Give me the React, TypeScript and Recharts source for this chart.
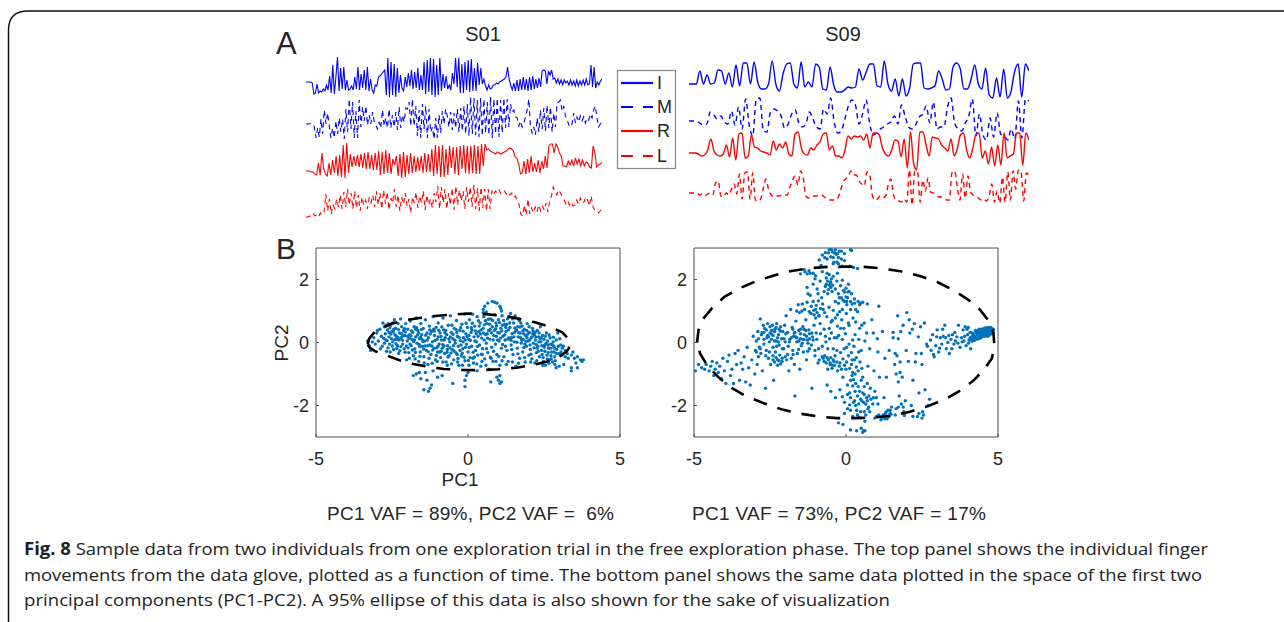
import React from 'react';
import { LineChart, Line, ScatterChart, Scatter, XAxis, YAxis } from 'recharts';

const FONT = '"Liberation Sans", Arial, sans-serif';
const TEXT = '#262626';
const DOT = '#0072BD';

const fingerNames = ['I', 'M', 'R', 'L'];
const fingerColors = ['#0000FF', '#0000FF', '#FF0000', '#FF0000'];
const fingerDashes = ['', '5 4', '', '5 4'];

// traces, read in pixels above each one's resting level
const s01Levels = [143, 101, 54, 8];
const s09Levels = [141, 104, 72, 32];

const s01I = [0,0,0,0,-1,-12,-11,-2,-11,-9,-10,-7,-9,-3,-8,6,-11,17,-12,5,25,-9,14,-7,15,-8,2,-8,-7,-4,-8,5,-7,15,-8,8,-6,12,-8,15,-9,3,-8,-11,-3,-4,5,6,8,10,12,-13,24,-15,20,-13,18,-15,14,-11,7,-6,-9,5,-5,9,-4,12,-7,10,-6,14,-8,7,-8,20,-12,22,-10,24,-13,23,-15,17,-13,24,-9,8,-6,6,-7,-3,-8,9,-2,24,-5,24,-11,18,-11,20,-8,22,-10,23,-9,14,-9,19,-3,14,-2,3,-4,-8,-3,-7,-6,-3,-3,-1,-2,0,1,2,3,5,15,3,-3,-8,-1,-9,2,-9,3,-8,5,-8,3,-9,5,-8,6,-7,3,-6,4,-5,11,12,11,-2,11,7,12,3,4,-1,3,-2,2,-3,2,-1,1,-3,2,-3,1,-4,2,-4,1,-3,2,-3,3,-3,-2,17,-5,15,-6,0,-3,1,3];
const s01M = [0,0,0,1,0,-3,-14,-4,-13,5,-10,14,0,11,-2,-14,-4,-14,3,-10,6,-8,5,-15,15,-8,25,-5,22,-14,13,-14,24,-3,17,3,18,-1,9,0,12,3,-1,-5,2,-4,14,-2,6,-4,15,-4,9,-3,12,-6,17,-4,9,2,16,15,22,-2,25,-2,18,-12,14,-14,20,-5,18,-14,15,-8,-3,-15,6,-14,9,-9,13,0,15,8,-3,12,-6,11,-4,15,-8,16,-7,18,-10,20,-12,27,-10,26,-11,24,-13,26,-12,25,-9,22,-11,27,-14,25,-10,26,-13,24,-9,26,-4,25,-3,20,12,14,7,6,-2,3,-3,1,7,14,25,-3,-9,-3,-11,6,-8,14,-5,16,-7,19,-4,17,-8,11,-3,21,22,24,13,18,8,5,-1,-3,0,11,1,7,2,8,3,7,1,6,4,10,6,14,18,6,-3,0,2];
const s01R = [0,0,0,-1,-1,-3,-4,8,-4,18,2,-3,-5,8,-4,11,-2,15,-5,16,-6,26,-7,28,-2,17,4,15,5,16,4,17,3,18,2,19,2,16,1,18,1,20,-4,19,-3,21,-2,18,-3,12,6,15,-5,17,-7,19,-6,16,-3,18,-2,15,-1,14,0,15,-2,18,-1,17,-1,22,-5,26,-3,25,-6,26,-6,22,-4,25,3,24,-3,24,-4,25,2,26,-2,25,-3,25,-2,26,-3,25,-3,27,5,27,21,22,20,19,18,17,19,18,17,18,19,20,22,23,22,20,14,13,7,-3,-2,10,-3,12,-2,15,-1,8,-1,11,-2,10,2,15,3,25,27,27,18,27,24,18,15,5,5,4,10,6,11,5,13,7,12,5,11,5,9,8,4,3,25,18,4,6,7,9];
const s01L = [0,0,1,0,3,1,2,0,4,2,5,23,6,18,3,12,8,18,10,22,8,25,10,28,12,24,8,26,9,22,6,20,12,17,8,19,14,22,10,26,12,24,8,27,13,25,7,19,14,28,10,22,6,20,13,24,11,18,4,20,14,25,9,21,14,26,7,22,12,18,9,24,15,31,8,30,14,28,8,24,12,29,7,31,12,27,16,26,8,30,15,30,10,32,8,29,6,30,9,28,6,28,8,26,22,26,24,27,23,25,26,23,25,22,24,20,21,16,13,3,1,12,2,18,3,9,4,10,5,12,6,11,7,14,5,16,21,30,25,22,27,24,20,17,13,16,12,15,11,12,17,13,19,14,15,20,17,11,21,10,7,5,4,6,8];

const s09I = [0,0,0,13,0,9,0,1,14,13,0,11,-3,19,-2,21,21,0,22,2,-5,-5,0,23,0,-7,10,20,21,0,-4,22,-3,2,-3,20,17,-5,-6,17,-1,-8,-8,-6,-3,-4,-3,15,4,12,20,20,-2,-3,23,0,-7,5,-12,5,-12,-4,20,21,21,-4,-5,-4,-2,13,5,-6,-5,17,21,15,-5,-5,5,19,0,-5,16,-11,-14,6,-13,15,-14,-8,12,20,-13,20,13];
const s09M = [0,0,0,-2,-4,-3,9,6,2,5,-1,-3,10,-4,14,-8,22,-4,-15,22,23,-10,-11,9,12,10,5,-7,-3,7,11,-2,-6,-3,9,2,-6,-8,12,7,23,-1,-12,-10,2,15,21,16,-3,7,21,-2,-14,-12,-8,-6,-3,-1,5,-3,16,5,-6,-8,-4,4,7,15,-2,19,-8,-6,-6,14,23,-2,-8,-10,-2,5,22,-15,7,-14,-19,3,-16,8,-13,-15,-19,-8,-18,20,-17,22,20];
const s09R = [0,0,0,-1,-3,-2,3,14,2,-2,-3,-1,8,-4,15,-7,19,20,-5,-3,18,6,5,2,1,0,-2,12,3,9,5,11,-1,-3,19,21,5,-1,-2,5,3,8,11,19,20,3,7,-3,-3,-5,3,17,14,17,16,17,13,19,5,20,20,18,5,-1,-3,3,13,12,-4,14,-15,21,-10,-17,21,21,8,-3,16,15,14,8,5,2,14,-3,4,18,20,3,-5,5,19,20,-5,2,-11,6,-13,8,-12,20,-5,-3,-1,20,20,-12,20,13];
const s09L = [0,0,0,0,-2,-1,-3,-1,0,-2,10,12,-3,-4,0,-2,4,9,-1,19,-6,20,21,-6,20,-7,-8,-6,5,14,3,-2,-4,-3,-3,-2,-2,-2,6,13,17,8,22,15,-3,-5,-3,-3,-3,-2,-2,-4,-6,-7,-7,-7,-5,2,11,14,17,22,18,18,12,9,7,21,19,-2,-7,-6,-3,-5,-3,8,14,-2,-7,-8,-9,-6,-9,23,-12,22,22,-9,13,2,15,1,0,-2,-4,-4,-6,-7,-7,20,22,6,-7,19,-5,17,1,-2,-3,-5,-7,-6,-8,-3,9,-9,2,-10,16,-9,21,-7,22,4,23,21,-8,20,18];

const s01Traces = [s01I, s01M, s01R, s01L];
const s09Traces = [s09I, s09M, s09R, s09L];

const pcLimits = [-5, 5];
const pcSideLimits = [-3, 3];
const pcTicks = [-5, 0, 5];
const pcSideTicks = [-2, 0, 2];

const s01Points = [
[.5,1.05],[.55,1.15],[.65,1.25],[.8,1.3],[.95,1.25],[1.05,1.15],[1.1,1],[.5,.95],[.6,.97],[.88,1.28],[1.08,1.08],
[-1.3,-1.55],[-1.45,-1.5],[-1.25,-1.45],[-1.2,-1.35],[-1.35,-1.2],[-1.7,-1],[-1.8,-1.05],[-1.6,-.95],[-1.55,-1.15],[-.5,-1.3],[-.1,-1.4],[-.1,-1.2],[-.05,-1.05],[0,-.95],[.3,-.9],[.75,-1.25],[1,-1.2],[1.05,-1.3],[1.1,-1.25],[.95,-1.1],[1.05,-1.05],[-1,-1.1],[-.85,-1.05],[-1.15,-.9],[-1.4,-.95],
[3.1,-.4],[3.3,-.5],[3.4,-.4],[3.55,-.65],[3.7,-.55],[3.8,-.55],[3.75,-.6],[3.6,-.45],[3.4,-.8],[3.4,-.9],[3.6,-.8],[3.15,-.7],[3,-.75],[2.9,-.8],[3.2,-.25],[3.45,-.3],[3.5,-.5],
[-3.3,.05],[-3.25,-.1],[-3.2,-.25],[-3.1,.15],[-3,.3],[-3.05,-.05],[-2.95,.05],[-2.9,.42],[-2.85,.2],[-2.82,-.12],[-2.8,.62],[-2.75,.5],[-2.72,.28],[-2.7,.08],[-2.68,-.28],[-2.65,.4],[-2.6,.18],[-2.58,-.05],[-2.55,.55],[-2.5,.35],[-2.48,.02],[-2.45,-.22],[-2.42,.72],[-2.4,.25],[-2.38,.45],[-2.35,.1],[-2.32,-.1],[-2.3,.6],[-2.28,-.35],[-2.25,.3],[-2.22,.75],[-2.2,.15],[-2.18,.5],[-2.15,-.05],[-2.12,.38],[-2.1,-.2],[-2.08,.22],[-2.05,.6],[-2.02,-.55],[-2,.05],
[-1.98,.42],[-1.95,-.32],[-1.92,.25],[-1.9,.68],[-1.87,-.1],[-1.85,.1],[-1.82,.32],[-1.8,-.42],[-1.77,.5],[-1.75,-.2],[-1.72,.18],[-1.7,.78],[-1.68,-.02],[-1.65,.38],[-1.62,-.6],[-1.6,.12],[-1.57,-.3],[-1.55,.6],[-1.52,.25],[-1.5,-.12],[-1.47,.45],[-1.45,-.45],[-1.42,.05],[-1.4,.72],[-1.37,-.25],[-1.35,.3],[-1.32,-.7],[-1.3,.15],[-1.27,.52],[-1.25,-.08],[-1.22,-.38],[-1.2,.35],[-1.17,.02],[-1.15,.82],[-1.12,-.18],[-1.1,.22],[-1.07,-.55],[-1.05,.48],[-1.02,.1],[-1,-.3],
[-.98,.62],[-.95,-.05],[-.92,.3],[-.9,-.48],[-.87,.08],[-.85,-.18],[-.82,.78],[-.8,.4],[-.77,-.35],[-.75,.15],[-.72,-.62],[-.7,.25],[-.67,-.1],[-.65,.55],[-.62,-.42],[-.6,.02],[-.58,.85],[-.55,.32],[-.52,-.22],[-.5,.12],[-.47,-.55],[-.45,.45],[-.42,-.02],[-.4,-.32],[-.38,.7],[-.35,.2],[-.32,-.12],[-.3,-.72],[-.27,.38],[-.25,.06],[-.22,-.42],[-.2,.58],[-.17,-.2],[-.15,.15],[-.12,.9],[-.1,-.58],[-.07,.28],[-.05,-.05],[-.02,.48],[0,-.3],
[.02,.1],[.05,.72],[.07,-.48],[.1,.32],[.12,-.12],[.15,.9],[.18,-.65],[.2,.18],[.22,.52],[.25,-.25],[.28,.02],[.3,.82],[.32,-.4],[.35,.35],[.38,-.08],[.4,.62],[.42,-.75],[.45,.14],[.48,-.2],[.5,.45],[.52,.82],[.55,-.52],[.58,.25],[.6,-.02],[.62,.6],[.65,-.32],[.68,.38],[.7,-.85],[.72,.1],[.75,.75],[.78,-.15],[.8,.5],[.82,-.6],[.85,.22],[.88,.88],[.9,-.05],[.92,.62],[.95,-.38],[.98,.32],[1,.72],
[1.02,.05],[1.05,-.72],[1.08,.45],[1.1,-.18],[1.12,.85],[1.15,.2],[1.18,-.45],[1.2,.58],[1.22,.08],[1.25,.35],[1.28,-.25],[1.3,.75],[1.32,-.6],[1.35,.15],[1.38,.48],[1.4,.92],[1.42,-.08],[1.45,.28],[1.48,-.38],[1.5,.62],[1.52,.02],[1.55,.85],[1.58,-.75],[1.6,.4],[1.62,-.18],[1.65,.18],[1.68,.7],[1.7,-.5],[1.72,.3],[1.75,-.02],[1.78,.52],[1.8,-.3],[1.82,.1],[1.85,.42],[1.88,-.62],[1.9,.22],[1.92,-.12],[1.95,.6],[1.98,.05],[2,-.4],
[2.02,.32],[2.05,-.22],[2.08,.15],[2.1,-.52],[2.12,.45],[2.15,-.02],[2.18,.25],[2.2,-.65],[2.22,.08],[2.25,-.32],[2.28,.38],[2.3,-.12],[2.32,.18],[2.35,-.45],[2.38,.5],[2.4,.02],[2.42,-.25],[2.45,.22],[2.48,-.6],[2.5,.1],[2.52,-.08],[2.55,-.72],[2.58,.3],[2.6,-.4],[2.62,.05],[2.65,-.18],[2.68,-.55],[2.7,.15],[2.72,-.05],[2.75,-.3],[2.78,-.62],[2.8,.02],[2.82,-.12],[2.85,-.45],[2.9,.08],[2.92,-.22],[2.95,.3],[3,-.35],[3.02,.12],[3.05,-.08],[3.1,-.18],
[-2.6,.32],[-2.52,.12],[-2.44,.42],[-2.36,.2],[-2.27,.08],[-2.18,.28],[-2.09,.44],[-1.99,.2],[-1.91,-.05],[-1.72,.42],[-1.62,.3],[-1.51,.1],[-1.33,-.1],[-1.13,.42],[-.98,.18],[-.88,-.28],[-.78,.08],[-.68,-.22],[-.58,.18],[-.48,-.1],[-.37,.32],[-.26,-.25],[-.16,.02],[-.08,-.15],[.03,.22],[.13,.4],[.23,.05],[.33,.2],[.43,.4],[.53,.08],[.63,.28],[.73,.42],[.83,.08],[.93,.2],[1.03,.3],[1.13,.55],[1.23,-.12],[1.33,.4],[1.43,.15],[1.53,.32],[1.63,.5],[1.73,.15],[1.83,.28],[1.93,.38],[2.03,.08],[2.13,.28],[2.23,.18],[2.33,.02],[2.43,-.1],[2.53,-.28],[2.63,-.08],[2.73,-.42],[2.83,-.3],
[-2.77,.13],[-2.63,-.17],[-2.54,.27],[-2.66,.06],[-2.49,-.11],[-2.41,.09],[-2.57,.47],[-2.34,-.19],[-2.46,.33],[-2.29,.41],[-2.37,-.04],[-2.21,-.13],[-2.31,.16],[-2.16,.07],[-2.24,-.26],[-2.06,.33],[-2.14,.21],[-2.03,-.11],[-1.94,.13],[-2.07,-.31],[-1.86,.37],[-1.97,-.17],[-1.79,.03],[-1.88,.21],[-1.73,-.31],[-1.83,-.24],[-1.66,.24],[-1.76,.08],[-1.59,-.13],[-1.69,.47],[-1.53,.41],[-1.61,-.06],[-1.46,-.21],[-1.56,.17],[-1.39,.23],[-1.48,.03],[-1.31,-.29],[-1.41,-.11],[-1.24,.27],[-1.34,.08],[-1.16,-.24],[-1.26,.4],[-1.09,.06],[-1.19,-.11],[-1.03,-.17],[-1.11,.36],[-.96,.39],[-1.04,-.41],[-.89,.19],[-.99,-.12],[-.83,-.07],[-.93,-.3],[-.76,.31],[-.86,.49],[-.69,-.31],[-.79,-.11],[-.63,.11],[-.73,.38],[-.56,-.33],[-.66,-.46],[-.49,.26],[-.59,-.17],[-.43,.07],[-.53,.55],[-.36,-.38],[-.46,-.27],[-.29,.16],[-.39,.41],[-.23,-.08],[-.33,-.51],[-.16,.36],[-.24,.47],[-.09,.08],[-.19,-.34],[-.03,.19],[-.13,-.47],[.04,-.16],[-.06,.61],[.11,.47],[.01,-.57],[.17,-.31],[.08,.07],[.24,.37],[.14,.61],[.31,-.13],[.21,-.46],[.37,.52],[.27,.28],[.44,-.37],[.34,.69],[.51,.3],[.41,.27],[.57,.69],[.47,-.38],[.64,.14],[.54,.56],[.71,.58],[.61,-.2],[.77,.31],[.67,.74],[.84,-.28],[.74,-.47],[.91,.44],[.81,.7],[.97,.08],[.87,.39],[1.04,.63],[.94,.53],[1.11,.37],[1.01,-.44],[1.17,.7],[1.07,.14],[1.24,.48],[1.14,-.06],[1.31,.11],[1.21,.25],[1.37,.62],[1.27,.57],[1.44,-.22],[1.34,.82],[1.51,.18],[1.41,.07],[1.57,.37],[1.47,.75],[1.64,-.36],[1.54,.46],[1.71,.49],[1.61,.01],[1.77,.07],[1.67,.31],[1.84,-.16],[1.74,.62],[1.91,.04],[1.81,.37],[1.97,.27],[1.87,-.05],[2.04,-.08],[1.94,.16],[2.11,.18],[2.01,.5],[2.17,-.17],[2.07,-.37],[2.24,-.06],[2.14,.37],[2.31,-.28],[2.21,.32],[2.37,.12],[2.27,-.18],[2.44,-.38],[2.34,.3],[2.51,-.15],[2.41,.15],[2.57,-.02],[2.47,-.48],[2.64,-.32],[2.54,.2],[2.71,-.18],[2.61,-.52],[2.77,-.07],[2.67,.24],[2.84,-.18],[2.74,-.52],[2.91,-.35],[2.81,.17],[2.97,-.12],[2.87,-.58],[3.06,-.3],[3.14,-.12],[3.2,-.45],[3.26,-.35],
[-3.15,.02],[-2.98,.38],[-2.88,-.2],[-2.7,.55],[-2.75,-.02],[-2.62,.6],[-2.56,-.3],[-2.47,.62],[-1.93,-.5],[-1.74,-.52],[-1.58,-.44],[-1.44,-.65],[-1.28,-.5],[-1.18,-.66],[-1.01,-.6],[-.83,-.62],[-.68,-.72],[-.54,-.68],[-.34,-.62],[-.18,-.72],[.03,-.72],[.16,-.5],[.29,-.68],[.46,-.6],[.59,-.72],[.76,-.5],[.92,-.6],[1.12,-.58],[1.26,-.7],[1.46,-.62],[1.66,-.66],[1.86,-.48],[2.06,-.62],[2.26,-.58],[2.46,-.72],[2.66,-.66],[2.86,-.7],
];

const s09Points = [
[-4.95,-.9],[-4.85,-.7],[-4.75,-.8],[-4.65,-.85],[-4.6,-.7],[-4.5,-.9],[-4.45,-.75],[-4.4,-.6],[-4.35,-1.05],[-4.3,-.85],[-4.25,-.65],[-4.2,-.95],[-4.15,-.75],[-4.1,-1.15],[-4.05,-.5],[-4,-.9],[-3.95,-1.3],[-3.9,-.6],[-3.85,-.4],[-3.8,-1.05],[-3.75,-.85],[-3.7,-1.3],[-3.65,-.35],[-3.6,-.7],[-3.55,-.25],[-3.5,-1.2],[-3.45,-.65],[-3.4,-.85],[-3.35,-.45],[-3.3,-1.25],[-3.25,-.15],[-3.2,-.8],[-3.15,-1.35],[-3.1,-.55],[-3.05,.2],[-3,-1],[-2.98,-.25],[-2.95,.05],[-2.92,-.7],[-2.9,.35],[-2.88,-.45],[-2.85,-.15],[-2.82,.75],[-2.8,-.35],[-2.78,.25],[-2.75,-.9],[-2.72,.55],[-2.7,-.05],[-2.68,.45],[-2.65,-1.45],[-2.62,-.25],[-2.6,.15],[-2.58,.6],[-2.55,-.5],[-2.52,.02],[-2.5,.3],[-2.48,-.7],[-2.45,.1],[-2.42,.55],[-2.4,-.15],[-2.38,-1.2],[-2.35,.35],[-2.32,-.3],[-2.3,.05],[-2.28,.6],[-2.25,-.55],[-2.22,.25],[-2.2,-.08],[-2.18,-.4],[-2.15,.5],[-2.12,.12],[-2.1,-.6],[-2.08,.35],[-2.05,-.2],[-2.02,.55],[-2,-.45],
[-2,.02],[-1.97,.85],[-1.95,-.55],[-1.92,.32],[-1.9,-.12],[-1.88,-.9],[-1.85,.1],[-1.82,1.05],[-1.8,-.5],[-1.77,.48],[-1.75,-.25],[-1.72,.2],[-1.7,-.7],[-1.68,-1.7],[-1.65,.68],[-1.62,.02],[-1.6,-.35],[-1.57,1.2],[-1.55,.38],[-1.52,-.85],[-1.5,.12],[-1.47,-.1],[-1.45,1],[-1.42,.5],[-1.4,-.3],[-1.37,.25],[-1.35,2.25],[-1.32,.72],[-1.3,-.55],[-1.27,.08],[-1.25,1.55],[-1.22,.4],[-1.2,-.2],[-1.18,2.2],[-1.15,.92],[-1.12,-1.45],[-1.1,.18],[-1.08,1.3],[-1.05,.55],[-1.02,-.42],[-1,1.05],
[-.98,.3],[-.95,1.7],[-.92,-.65],[-.9,.85],[-.88,-.55],[-.85,.6],[-.82,2.45],[-.8,1.42],[-.78,-.45],[-.75,1.05],[-.72,-.6],[-.7,2.7],[-.68,.2],[-.65,1.85],[-.62,-.48],[-.6,1.55],[-.58,2.85],[-.55,.45],[-.52,-.7],[-.5,1.75],[-.48,2.95],[-.45,.7],[-.42,-.55],[-.4,2.55],[-.38,.15],[-.35,1.3],[-.32,2.8],[-.3,-.25],[-.28,.88],[-.25,1.55],[-.22,2.4],[-.2,-.65],[-.18,.45],[-.15,2.9],[-.12,1.05],[-.1,-1.1],[-.08,1.65],[-.05,2.6],[-.02,.28],[0,-.85],[.02,1.3],[.05,-1.35],[.08,1.85],[.1,.55],[.12,-1.6],[.15,2.95],[.18,1.55],[.2,-.55],[.22,.08],[.25,-1.9],[.28,1.25],[.3,-1],[.32,.65],[.35,-2.15],[.38,2.35],[.4,-1.4],[.42,-.3],[.45,1.2],[.48,-1.8],[.5,-2.4],[.52,.55],[.55,-1.1],[.58,-2.8],[.6,-1.65],[.62,.05],[.65,-2.3],[.68,.3],[.7,-1.85],[.72,-.75],[.75,-2.05],[.78,-.2],[.8,-1.45],[.85,.72],[.88,-1.95],[.9,.3],[.92,-.9],[.95,-2.4],[1,-1.75],[1.03,.12],[1.05,-.3],[1.08,1.15],[1.1,-1.1],[1.15,-2.45],[1.2,.35],[1.25,-1.75],[1.28,-.5],[1.3,-2.25],[1.33,-1.1],[1.38,-2.35],[1.42,-.25],[1.45,-2.15],[1.5,-2.05],[1.55,.15],[1.6,-.7],[1.65,-1],
[1.65,-2.1],[1.7,.85],[1.75,-1.7],[1.8,.35],[1.85,-1.1],[1.9,-2.2],[1.95,-1.85],[2,.95],[2.05,-.6],[2.1,.3],[2.15,-2],[2.2,-1.2],[2.25,.6],[2.3,-.35],[2.35,-2.35],[2.4,-1.6],[2.45,.5],[2.5,-.7],[2.55,-2.3],[2.6,-1.5],[2.65,-.05],[2.7,-2],[2.75,-1.8],[2.8,-.25],[2.85,.25],[2.9,-.45],[2.95,-.1],[3,.4],[3.05,-.3],[3.1,.15],[3.15,-.05],[3.2,.2],[3.25,.55],[3.3,-.2],[3.35,0],[3.4,-.35],[3.45,.1],[3.5,.25],[3.55,-.05],[3.6,.05],[3.65,.18],[3.7,.55],[3.75,-.15],[3.8,.15],[3.85,.4],[3.88,.05],[3.92,.5],[3.95,-.1],[4,.25],[4.02,.48],[4.05,.08],[4.08,.15],[4.1,-.2],
[4.12,.12],[4.15,.2],[4.18,.1],[4.2,.25],[4.22,.17],[4.25,.15],[4.27,.3],[4.29,.2],[4.31,.12],[4.33,.26],[4.35,.22],[4.37,.35],[4.39,.18],[4.41,.28],[4.43,.2],[4.45,.32],[4.47,.42],[4.49,.26],[4.51,.22],[4.53,.35],[4.55,.28],[4.57,.43],[4.59,.3],[4.61,.24],[4.63,.38],[4.65,.32],[4.67,.28],[4.69,.44],[4.71,.36],[4.73,.3],[4.75,.4],[4.77,.34],[4.79,.44],[4.81,.38],[4.83,.4],[4.85,.42],[4.6,.36],[4.5,.3],[4.4,.25],[4.3,.17],[4.7,.33],[4.54,.24],[4.64,.26],[4.74,.36],[4.44,.26],[4.34,.18],
[-2.7,.32],[-2.62,.4],[-2.55,.18],[-2.5,.5],[-2.45,.38],[-2.4,.22],[-2.35,.05],[-2.3,.48],[-2.25,.15],[-2.2,.42],[-2.4,-.55],[-2.35,-.62],[-2.3,-.48],[-2.25,-.72],[-2.2,-.58],[-2.15,-.68],[-2.1,-.5],[-1.75,.42],[-1.7,.3],[-1.65,.18],[-1.55,.05],[-1.5,.28],[-1.42,.1],[-1.38,.42],[-1.3,.2],[-1.25,-.02],[-1.2,.12],[-1.12,.3],[-1.05,.88],[-1,.78],[-.95,.95],[-.88,.85],[-.65,2.05],[-.6,1.95],[-.55,1.82],[-.52,1.9],[-.48,2.02],[-.42,2.7],[-.38,2.85],[-.3,2.55],[-.25,2.7],[-.75,-.5],[-.7,-.42],[-.65,-.65],[-.58,-.55],[-.5,-.48],[-.45,-.72],[-.4,-.6],[-.05,1.3],[0,1.45],[.03,1.2],[.06,1.6],[-.15,1.42],[-.25,1.25],[.15,-1.2],[.2,-1.05],[.3,-1.55],[.42,-1.95],[.52,-1.85],[.6,-2.2],[.68,-1.75],[.72,-2.1],[.78,-2.2],[.58,-1.9],[.48,-2.2],[.38,-2.3],[1.38,-2.15],[1.45,-2.25],[1.42,-2.35],[1.35,-2.42],[2.4,-2.25],[2.5,-2.4],[2.52,-2.2],[2.2,-2.35],
[-1.62,1],[-1.53,.95],[-1.44,1.22],[-1.36,1.05],[-1.28,1.28],[-1.21,.98],[-1.14,1.15],[-1.06,1.02],[-.98,1.18],[-.91,1.32],[-.84,1.08],[-.77,1.22],[-.7,.95],[-.63,.82],[-.56,1.12],[-.49,.65],[-.42,1.02],[-.35,.78],[-.28,.52],[-.21,.98],[-.14,.72],[-.07,.45],[.01,.92],[.08,.62],[.15,1.05],[.23,.78],[.3,.25],[.38,.98],[.45,.45],[.6,.62],[.7,1.22],
[-1.28,1.75],[-1.18,1.5],[-1.08,1.85],[-1.02,2.02],[-.92,1.55],[-.85,1.95],[-.78,2.25],[-.72,1.62],[-.68,1.78],[-.62,2.2],[-.58,1.68],[-.55,2.15],[-.5,1.92],[-.46,1.62],[-.44,1.82],[-.42,2.1],[-.35,1.7],[-.3,1.95],[-.28,2.2],[-.22,1.42],[-.18,1.8],[-.12,1.98],[-.1,1.35],[-.05,1.6],[0,1.72],[.05,1.42],[.1,1.62],[.15,1.3],[.2,1.22],[.28,1.38],[.32,1.05],[.4,1.3],[.48,1.25],[.55,1.28],
[-.88,2.62],[-.78,2.78],[-.68,2.85],[-.62,2.65],[-.55,2.95],[-.5,2.72],[-.45,2.88],[-.42,2.5],[-.35,2.95],[-.28,2.82],[-.25,2.5],[-.22,2.9],[-.15,2.65],[-.12,2.42],[-.05,2.82],[.12,2.42],[.25,2.38],[.18,2.92],[-1.5,2.18],[-1.38,2.32],[-1.28,2.18],[-1.22,2.28],[-1.08,2.2],[-1,2.12],
[-2.95,-.3],[-2.88,.12],[-2.82,-.2],[-2.76,.32],[-2.7,.1],[-2.64,-.42],[-2.58,.22],[-2.52,-.3],[-2.46,.28],[-2.4,-.42],[-2.34,.42],[-2.28,-.12],[-2.22,.02],[-2.16,.36],[-2.1,-.2],[-2.04,.12],[-1.98,.28],[-1.92,-.38],[-1.86,.02],[-1.8,.15],[-1.74,-.38],[-1.68,.32],[-1.62,.15],[-1.56,-.22],[-1.5,.42],[-1.44,-.02],[-1.38,.1],[-1.32,.38],[-1.26,-.28],[-1.2,.28],[-1.14,-.08],[-1.08,.08],[-1.02,-.25],[-.96,.1],[-.9,-.2],[-.84,.28],[-.78,-.12],[-.72,.42],[-.66,.02],[-.6,-.2],[-.54,.12],[-.48,.3],[-.42,-.2],[-.36,-.42],[-.3,.15],[-.24,.22],[-.18,-.32],[-.12,.1],[-.06,-.2],[.02,-.15],[.1,-.05],[.18,-.32],[.26,-.12],[.34,-.48],[.42,.1],[.5,-.25],
[-.6,-.85],[-.52,-.65],[-.46,-.82],[-.38,-.72],[-.3,-.62],[-.28,-.9],[-.22,-.75],[-.15,-.85],[-.1,-.52],[-.05,-.72],[.02,-.62],[.08,-.42],[.12,-.82],[.18,-.7],[.22,-.95],[.28,-.55],[.34,-.78],[.4,-.9],[.46,-.62],[.52,-.82],
[-.2,-1.5],[-.35,-1.75],[-.5,-1.55],[-.62,-1.35],[-.12,-1.72],[-.05,-1.9],[.05,-1.65],[.12,-1.98],[.15,-1.75],[.22,-1.38],[.28,-1.85],[.25,-1.18],[.32,-1.3],[.38,-1.7],[.45,-1.55],[.5,-1.2],[.55,-1.6],[.6,-1.4],[.65,-1.95],[.7,-1.3],[.75,-1.7],[.82,-1.8],[.9,-1.75],[.95,-1.55],[1.05,-1.95],[.15,-2.15],[.05,-2.1],[-.05,-2.25],[.22,-2.35],[.32,-2],[.42,-2.38],[.62,-2.5],[.5,-2.72],[.55,-2.85],[.62,-2.8],[.35,-2.8],[.15,-2.78],[-.1,-2.6],[-.25,-2.55],[1,-2.35],[1.08,-2.3],[1.18,-2.4],[1.22,-2.3],[1.28,-2.42],[1.32,-2.2],[1.48,-2.28],[1.62,-2.3],[1.72,-2.05],[1.82,-1.95],[1.88,-2.05],[1.92,-2.32],
[3.82,.02],[3.9,.2],[3.98,.42],[4.03,-.02],[4.08,.32],[4.14,.04],[4.16,.3],[4.22,.06],[4.26,.38],[4.28,.1],[4.32,.36],[4.36,.12],[4.38,.42],[4.42,.14],[4.46,.4],[4.48,.18],[4.52,.44],[4.56,.2],[4.58,.46],[4.62,.46],[4.66,.2],[4.68,.48],[4.72,.24],[4.76,.48],[4.8,.28],[4.84,.32],[4.46,.22],[4.58,.22],[4.68,.38],[4.78,.4],
[1.55,.32],[1.62,-.35],[1.72,.12],[1.78,-.62],[1.88,.55],[1.98,-.25],[2.08,.72],[2.18,.42],[2.28,-.62],[2.38,.18],[2.48,-.35],[2.58,.62],[2.68,-.12],[2.78,.08],[2.88,-.38],[2.98,.18],[3.08,-.18],[3.18,.42],[3.28,.15],[3.38,.22],[3.48,-.2],[3.58,.32],[3.68,-.02],[1.72,-1.25],[1.78,-.95],[1.68,-.42],
];

const s01Ellipse = [[-3.3,-.05],[-3.25,.12],[-3.1,.3],[-2.85,.45],[-2.5,.6],[-2.1,.7],[-1.6,.78],[-1.1,.84],[-.6,.88],[0,.92],[.6,.9],[1.2,.84],[1.7,.75],[2.2,.64],[2.7,.5],[3.1,.32],[3.3,.12],[3.38,-.08],[3.25,-.28],[3,-.45],[2.6,-.6],[2.1,-.72],[1.6,-.8],[1,-.85],[.4,-.88],[-.2,-.87],[-.8,-.84],[-1.3,-.77],[-1.8,-.68],[-2.3,-.55],[-2.7,-.4],[-3.05,-.28],[-3.25,-.15],[-3.3,-.05]];
const s09Ellipse = [[-4.9,0],[-4.85,.4],[-4.7,.75],[-4.4,1.1],[-4,1.45],[-3.5,1.72],[-3,1.93],[-2.4,2.12],[-1.8,2.27],[-1.2,2.36],[-.6,2.4],[0,2.41],[.6,2.4],[1.2,2.35],[1.8,2.26],[2.4,2.12],[3,1.92],[3.5,1.68],[4,1.37],[4.4,1.05],[4.7,.68],[4.85,.3],[4.88,-.1],[4.8,-.5],[4.55,-.85],[4.2,-1.2],[3.8,-1.5],[3.3,-1.78],[2.7,-2.02],[2.1,-2.2],[1.5,-2.32],[.9,-2.38],[.3,-2.4],[-.3,-2.4],[-.9,-2.35],[-1.5,-2.26],[-2.1,-2.13],[-2.7,-1.93],[-3.3,-1.7],[-3.8,-1.42],[-4.2,-1.1],[-4.55,-.75],[-4.8,-.35],[-4.9,0]];

const captionLines = [
  'Sample data from two individuals from one exploration trial in the free exploration phase. The top panel shows the individual finger',
  'movements from the data glove, plotted as a function of time. The bottom panel shows the same data plotted in the space of the first two',
  'principal components (PC1-PC2). A 95% ellipse of this data is also shown for the sake of visualization',
];

const toXY = (rows: number[][]) => rows.map(([x, y]) => ({ x, y }));

const Traces = ({ traces, levels, left, width }: { traces: number[][]; levels: number[]; left: number; width: number }) => (
  <div style={{ position: 'absolute', left, top: 50 }}>
    <LineChart width={width} height={175} margin={{ top: 0, right: 0, bottom: 0, left: 0 }}>
      <XAxis type="number" dataKey="t" domain={[0, 1]} hide />
      <YAxis type="number" domain={[0, 175]} hide />
      {traces.map((vals, k) => (
        <Line
          key={fingerNames[k]}
          data={vals.map((v, i) => ({ t: i / (vals.length - 1), v: v + levels[k] }))}
          dataKey="v"
          type={width > 300 ? 'monotone' : 'linear'}
          stroke={fingerColors[k]}
          strokeWidth={width > 300 ? 1.4 : 1.1}
          strokeDasharray={fingerDashes[k]}
          dot={false}
          isAnimationActive={false}
        />
      ))}
    </LineChart>
  </div>
);

const Dot = (props: any) => <circle cx={props.cx} cy={props.cy} r={1.7} fill={DOT} />;
const NoDot = () => <g />;

const PcPlot = ({ left, points, ellipse }: { left: number; points: number[][]; ellipse: number[][] }) => {
  const axisColor = { stroke: '#4d4d4d' };
  const tick = { fill: TEXT, fontSize: 18, fontFamily: FONT };
  return (
    <div style={{ position: 'absolute', left, top: 240 }}>
      <ScatterChart width={354} height={237} margin={{ top: 7, right: 9, bottom: 0, left: 0 }}>
        <XAxis type="number" dataKey="x" domain={pcLimits} ticks={pcTicks} interval={0} height={40} tickSize={-3} tickMargin={18} axisLine={axisColor} tickLine={axisColor} tick={tick} />
        <YAxis type="number" dataKey="y" domain={pcSideLimits} ticks={pcSideTicks} interval={0} width={40} tickSize={-3} tickMargin={10} axisLine={axisColor} tickLine={axisColor} tick={tick} />
        <XAxis xAxisId="top" orientation="top" type="number" domain={pcLimits} ticks={pcTicks} interval={0} height={1} tickSize={-3} tick={false} axisLine={axisColor} tickLine={axisColor} />
        <YAxis yAxisId="right" orientation="right" type="number" domain={pcSideLimits} ticks={pcSideTicks} interval={0} width={1} tickSize={-3} tick={false} axisLine={axisColor} tickLine={axisColor} />
        <Scatter data={toXY(points)} shape={Dot} isAnimationActive={false} />
        <Scatter data={toXY(ellipse)} shape={NoDot} line={{ stroke: '#000', strokeWidth: 2.6, strokeDasharray: '14 11' }} isAnimationActive={false} />
      </ScatterChart>
    </div>
  );
};

const legendRows = [83, 107, 131, 156];

const Labels = () => {
  const txt = { fontFamily: FONT, fill: TEXT };
  const cap = { fontFamily: '"Open Sans", sans-serif', fontSize: 17, fill: '#222' };
  return (
    <svg width={1284} height={622} style={{ position: 'absolute', left: 0, top: 0 }}>
      <path d="M8.5 622 V30 Q8.5 11 28 11 H1284" fill="none" stroke="#111" strokeWidth={1.5} />
      <text x={276} y={54} fontSize={31} {...txt}>A</text>
      <text x={276} y={259} fontSize={30} {...txt}>B</text>
      <text x={483} y={41} fontSize={20} textAnchor="middle" {...txt}>S01</text>
      <text x={843} y={41} fontSize={20} textAnchor="middle" {...txt}>S09</text>
      <text x={460} y={486} fontSize={19} textAnchor="middle" {...txt}>PC1</text>
      <text transform="translate(288 343) rotate(-90)" fontSize={19} textAnchor="middle" {...txt}>PC2</text>
      <text x={327} y={520} fontSize={19} textLength={287} xmlSpace="preserve" {...txt}>PC1 VAF = 89%, PC2 VAF =  6%</text>
      <text x={692} y={520} fontSize={19} textLength={294} {...txt}>PC1 VAF = 73%, PC2 VAF = 17%</text>
      <rect x={617.5} y={70.5} width={58} height={98} fill="#fff" stroke="#888" strokeWidth={1.2} />
      {fingerNames.map((name, k) => (
        <g key={name}>
          <line x1={621} x2={653} y1={legendRows[k]} y2={legendRows[k]} stroke={fingerColors[k]} strokeWidth={2.2} strokeDasharray={fingerDashes[k] ? '12 10' : undefined} />
          <text x={657} y={legendRows[k] + 6} fontSize={18} {...txt}>{name}</text>
        </g>
      ))}
      <text x={24} y={555} textLength={1184} lengthAdjust="spacingAndGlyphs" {...cap}>
        <tspan fontWeight={700}>Fig. 8</tspan> {captionLines[0]}
      </text>
      <text x={24} y={581} textLength={1178} lengthAdjust="spacingAndGlyphs" {...cap}>{captionLines[1]}</text>
      <text x={24} y={606} textLength={866} lengthAdjust="spacingAndGlyphs" {...cap}>{captionLines[2]}</text>
    </svg>
  );
};

export default function App() {
  return (
    <div style={{ position: 'absolute', left: 0, top: 0, width: 1284, height: 622, background: '#fff', overflow: 'hidden' }}>
      <Labels />
      <Traces traces={s01Traces} levels={s01Levels} left={306} width={296} />
      <Traces traces={s09Traces} levels={s09Levels} left={689} width={340} />
      <PcPlot left={276} points={s01Points} ellipse={s01Ellipse} />
      <PcPlot left={654} points={s09Points} ellipse={s09Ellipse} />
    </div>
  );
}
